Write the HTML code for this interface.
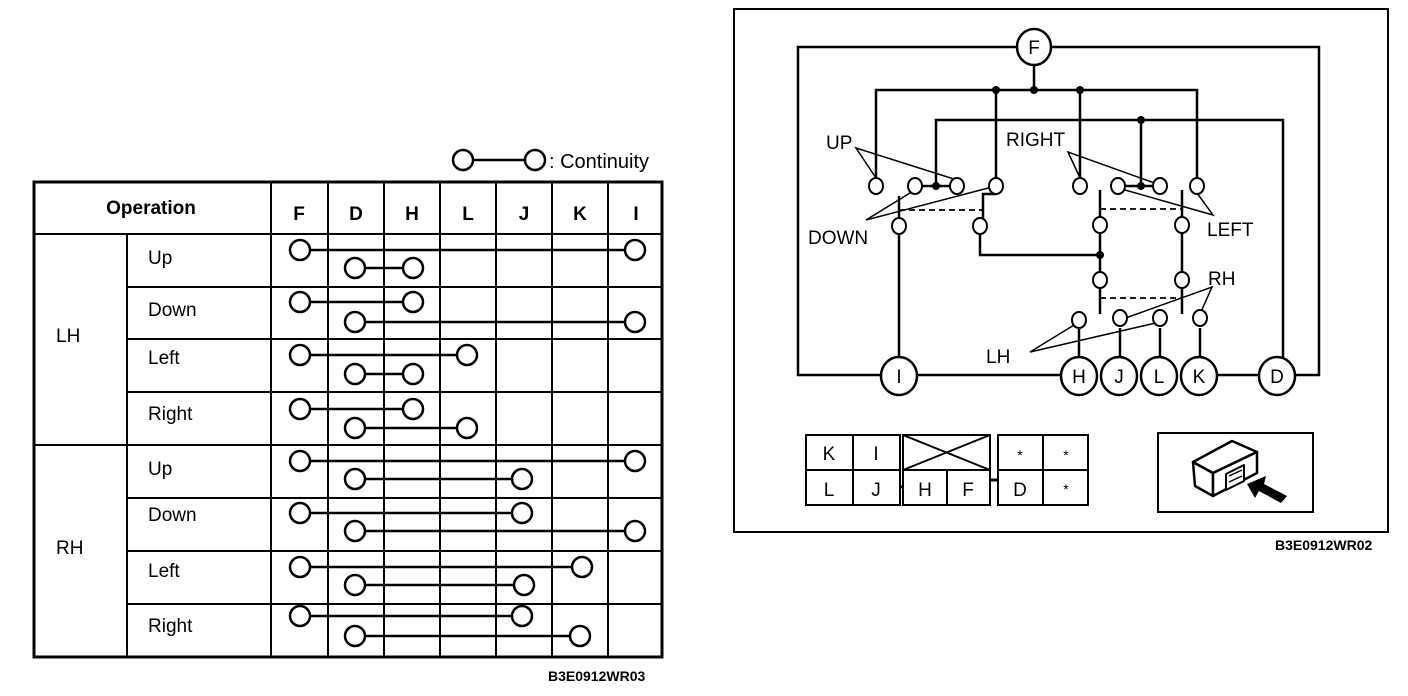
<!DOCTYPE html>
<html><head><meta charset="utf-8"><style>
html,body{margin:0;padding:0;background:#fff;}
svg{display:block;}
text{font-family:"Liberation Sans",Arial,sans-serif;fill:#000;}
</style></head><body>
<svg width="1408" height="696" viewBox="0 0 1408 696" xmlns="http://www.w3.org/2000/svg">
<g stroke="#000" fill="none" stroke-width="2">
<rect x="34" y="182" width="628" height="475" stroke-width="3"/>
<line x1="34" y1="234" x2="662" y2="234"/>
<line x1="34" y1="445" x2="662" y2="445"/>
<line x1="127" y1="287" x2="662" y2="287"/>
<line x1="127" y1="339" x2="662" y2="339"/>
<line x1="127" y1="392" x2="662" y2="392"/>
<line x1="127" y1="498" x2="662" y2="498"/>
<line x1="127" y1="551" x2="662" y2="551"/>
<line x1="127" y1="604" x2="662" y2="604"/>
<line x1="127" y1="234" x2="127" y2="657"/>
<line x1="271" y1="182" x2="271" y2="657"/>
<line x1="328" y1="182" x2="328" y2="657"/>
<line x1="384" y1="182" x2="384" y2="657"/>
<line x1="440" y1="182" x2="440" y2="657"/>
<line x1="496" y1="182" x2="496" y2="657"/>
<line x1="552" y1="182" x2="552" y2="657"/>
<line x1="608" y1="182" x2="608" y2="657"/>
</g>
<g stroke="#000" stroke-width="2.5" fill="#fff">
<line x1="463" y1="160" x2="535" y2="160"/>
<circle cx="463" cy="160" r="10"/><circle cx="535" cy="160" r="10"/>
<line x1="300" y1="250" x2="635" y2="250"/><circle cx="300" cy="250" r="10"/><circle cx="635" cy="250" r="10"/>
<line x1="355" y1="268" x2="413" y2="268"/><circle cx="355" cy="268" r="10"/><circle cx="413" cy="268" r="10"/>
<line x1="300" y1="302" x2="413" y2="302"/><circle cx="300" cy="302" r="10"/><circle cx="413" cy="302" r="10"/>
<line x1="355" y1="322" x2="635" y2="322"/><circle cx="355" cy="322" r="10"/><circle cx="635" cy="322" r="10"/>
<line x1="300" y1="355" x2="467" y2="355"/><circle cx="300" cy="355" r="10"/><circle cx="467" cy="355" r="10"/>
<line x1="355" y1="374" x2="413" y2="374"/><circle cx="355" cy="374" r="10"/><circle cx="413" cy="374" r="10"/>
<line x1="300" y1="409" x2="413" y2="409"/><circle cx="300" cy="409" r="10"/><circle cx="413" cy="409" r="10"/>
<line x1="355" y1="428" x2="467" y2="428"/><circle cx="355" cy="428" r="10"/><circle cx="467" cy="428" r="10"/>
<line x1="300" y1="461" x2="635" y2="461"/><circle cx="300" cy="461" r="10"/><circle cx="635" cy="461" r="10"/>
<line x1="355" y1="479" x2="522" y2="479"/><circle cx="355" cy="479" r="10"/><circle cx="522" cy="479" r="10"/>
<line x1="300" y1="513" x2="522" y2="513"/><circle cx="300" cy="513" r="10"/><circle cx="522" cy="513" r="10"/>
<line x1="355" y1="531" x2="635" y2="531"/><circle cx="355" cy="531" r="10"/><circle cx="635" cy="531" r="10"/>
<line x1="300" y1="567" x2="582" y2="567"/><circle cx="300" cy="567" r="10"/><circle cx="582" cy="567" r="10"/>
<line x1="355" y1="585" x2="524" y2="585"/><circle cx="355" cy="585" r="10"/><circle cx="524" cy="585" r="10"/>
<line x1="300" y1="616" x2="522" y2="616"/><circle cx="300" cy="616" r="10"/><circle cx="522" cy="616" r="10"/>
<line x1="355" y1="636" x2="580" y2="636"/><circle cx="355" cy="636" r="10"/><circle cx="580" cy="636" r="10"/>
</g>
<text x="549" y="168" font-size="20">: Continuity</text>
<g font-size="19" font-weight="bold" text-anchor="middle">
<text x="151" y="214">Operation</text>
<text x="299" y="220">F</text><text x="356" y="220">D</text><text x="412" y="220">H</text>
<text x="468" y="220">L</text><text x="524" y="220">J</text><text x="580" y="220">K</text><text x="636" y="220">I</text>
</g>
<g font-size="19">
<text x="56" y="342">LH</text><text x="56" y="554">RH</text>
<text x="148" y="264">Up</text><text x="148" y="316">Down</text><text x="148" y="364">Left</text><text x="148" y="420">Right</text>
<text x="148" y="475">Up</text><text x="148" y="521">Down</text><text x="148" y="577">Left</text><text x="148" y="632">Right</text>
</g>
<text x="548" y="681" font-size="14" font-weight="bold">B3E0912WR03</text>

<rect x="734" y="9" width="654" height="523" fill="none" stroke="#000" stroke-width="2"/>
<text x="1275" y="550" font-size="14" font-weight="bold">B3E0912WR02</text>
<g stroke="#000" stroke-width="2.5" fill="none">
<polyline points="1017,47 798,47 798,375 881,375"/>
<polyline points="1051,47 1319,47 1319,375 1295,375"/>
<line x1="917" y1="375" x2="1061" y2="375"/>
<line x1="1217" y1="375" x2="1259" y2="375"/>
<line x1="1034" y1="64" x2="1034" y2="90"/>
<polyline points="876,178 876,90 1197,90 1197,178"/>
<line x1="996" y1="90" x2="996" y2="178"/>
<line x1="1080" y1="90" x2="1080" y2="178"/>
<polyline points="936,186 936,120 1283,120 1283,358"/>
<line x1="1141" y1="120" x2="1141" y2="186"/>
<line x1="922" y1="186" x2="950" y2="186"/>
<line x1="1125" y1="186" x2="1153" y2="186"/>
<line x1="899" y1="196" x2="899" y2="218"/>
<line x1="899" y1="234" x2="899" y2="358"/>
<polyline points="996,194 983,194 983,218"/>
<polyline points="980,234 980,255 1100,255"/>
<line x1="1100" y1="190" x2="1100" y2="217"/>
<line x1="1182" y1="190" x2="1182" y2="217"/>
<line x1="1100" y1="233" x2="1100" y2="272"/>
<line x1="1182" y1="233" x2="1182" y2="272"/>
<line x1="1100" y1="288" x2="1100" y2="314"/>
<line x1="1182" y1="288" x2="1182" y2="314"/>
<line x1="1079" y1="328" x2="1079" y2="358"/>
<line x1="1120" y1="328" x2="1120" y2="358"/>
<line x1="1160" y1="328" x2="1160" y2="358"/>
<line x1="1200" y1="328" x2="1200" y2="358"/>
</g>
<g stroke="#000" stroke-width="1.8" stroke-dasharray="6,4" fill="none">
<line x1="899" y1="210" x2="983" y2="210"/>
<line x1="1100" y1="209" x2="1182" y2="209"/>
<line x1="1100" y1="298" x2="1182" y2="298"/>
</g>
<g stroke="#000" stroke-width="1.5" fill="none">
<polyline points="876,178 856,148 957,180"/>
<polyline points="915,190 866,220 996,186"/>
<polyline points="1080,178 1068,152 1160,185"/>
<polyline points="1197,193 1213,215 1118,188"/>
<polyline points="1200,314 1212,287 1120,320"/>
<polyline points="1079,322 1030,352 1160,322"/>
</g>
<g fill="#000">
<circle cx="996" cy="90" r="4"/><circle cx="1034" cy="90" r="4"/><circle cx="1080" cy="90" r="4"/>
<circle cx="1141" cy="120" r="4"/><circle cx="936" cy="186" r="4"/><circle cx="1141" cy="186" r="4"/>
<circle cx="1100" cy="255" r="4"/>
</g>
<g stroke="#000" stroke-width="2" fill="#fff">
<ellipse cx="876" cy="186" rx="7" ry="8"/><ellipse cx="915" cy="186" rx="7" ry="8"/>
<ellipse cx="957" cy="186" rx="7" ry="8"/><ellipse cx="996" cy="186" rx="7" ry="8"/>
<ellipse cx="1080" cy="186" rx="7" ry="8"/><ellipse cx="1118" cy="186" rx="7" ry="8"/>
<ellipse cx="1160" cy="186" rx="7" ry="8"/><ellipse cx="1197" cy="186" rx="7" ry="8"/>
<ellipse cx="899" cy="226" rx="7" ry="8"/><ellipse cx="980" cy="226" rx="7" ry="8"/>
<ellipse cx="1100" cy="225" rx="7" ry="8"/><ellipse cx="1182" cy="225" rx="7" ry="8"/>
<ellipse cx="1100" cy="280" rx="7" ry="8"/><ellipse cx="1182" cy="280" rx="7" ry="8"/>
<ellipse cx="1079" cy="320" rx="7" ry="8"/><ellipse cx="1120" cy="318" rx="7" ry="8"/>
<ellipse cx="1160" cy="318" rx="7" ry="8"/><ellipse cx="1200" cy="318" rx="7" ry="8"/>
</g>
<g stroke="#000" stroke-width="2.5" fill="#fff">
<ellipse cx="1034" cy="47" rx="17" ry="18"/>
<ellipse cx="899" cy="376" rx="18" ry="19"/>
<ellipse cx="1079" cy="376" rx="18" ry="19"/>
<ellipse cx="1119" cy="376" rx="18" ry="19"/>
<ellipse cx="1159" cy="376" rx="18" ry="19"/>
<ellipse cx="1199" cy="376" rx="18" ry="19"/>
<ellipse cx="1277" cy="376" rx="18" ry="19"/>
</g>
<g font-size="19" text-anchor="middle">
<text x="1034" y="54">F</text>
<text x="899" y="383">I</text><text x="1079" y="383">H</text><text x="1119" y="383">J</text>
<text x="1159" y="383">L</text><text x="1199" y="383">K</text><text x="1277" y="383">D</text>
</g>
<g font-size="19">
<text x="826" y="149">UP</text>
<text x="808" y="244">DOWN</text>
<text x="1006" y="146">RIGHT</text>
<text x="1207" y="236">LEFT</text>
<text x="1208" y="285">RH</text>
<text x="986" y="363">LH</text>
</g>
<g stroke="#000" stroke-width="2" fill="none">
<rect x="806" y="435" width="94" height="70"/>
<line x1="806" y1="470" x2="900" y2="470"/><line x1="853" y1="435" x2="853" y2="505"/>
<rect x="903" y="435" width="87" height="70"/>
<line x1="903" y1="470" x2="990" y2="470"/><line x1="947" y1="470" x2="947" y2="505"/>
<line x1="903" y1="470" x2="990" y2="435"/><line x1="903" y1="435" x2="990" y2="470"/>
<rect x="998" y="435" width="90" height="70"/>
<line x1="998" y1="470" x2="1088" y2="470"/><line x1="1043" y1="435" x2="1043" y2="505"/>
<line x1="900" y1="487" x2="903" y2="487" stroke-width="3"/>
<line x1="990" y1="480" x2="998" y2="480" stroke-width="3"/>
<rect x="1158" y="433" width="155" height="79"/>
</g>
<g stroke="#000" stroke-width="2.5" fill="#fff" stroke-linejoin="round">
<polygon points="1193,462 1213,473 1213,496 1195,486"/>
<polygon points="1193,462 1232,441 1257,452 1213,473"/>
<polygon points="1213,473 1257,452 1257,473 1213,496"/>
<polygon points="1226,474 1244,465 1244,481 1226,490" stroke-width="2"/>
<line x1="1229" y1="476" x2="1242" y2="470" stroke-width="1.5"/>
<line x1="1229" y1="482" x2="1242" y2="476" stroke-width="1.5"/>
</g>
<polygon points="1247,484 1266,476 1264,484 1287,496 1281,503 1259,491 1255,498" fill="#000"/>
<g font-size="19" text-anchor="middle">
<text x="829" y="460">K</text><text x="876" y="460">I</text>
<text x="829" y="496">L</text><text x="876" y="496">J</text>
<text x="925" y="496">H</text><text x="968" y="496">F</text>
<text x="1020" y="496">D</text>
</g>
<g font-size="14" text-anchor="middle">
<text x="1020" y="460">*</text><text x="1066" y="460">*</text><text x="1066" y="494">*</text>
</g>
</svg>
</body></html>
